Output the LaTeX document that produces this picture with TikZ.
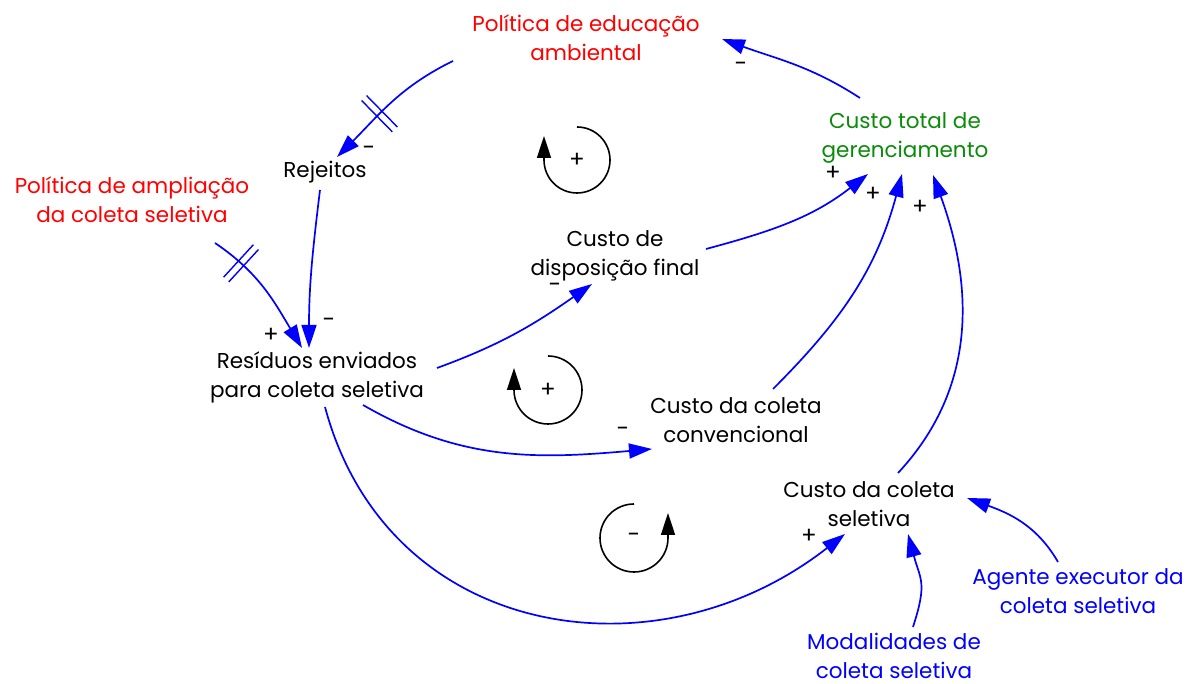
\documentclass[tikz,border=0pt]{standalone}
\usepackage{fontspec}
\setmainfont{Poppins}
\usetikzlibrary{arrows.meta,calc,decorations.markings}
\definecolor{cblue}{RGB}{0,0,255}
\definecolor{cred}{RGB}{255,0,0}
\definecolor{cgreen}{RGB}{10,140,10}
\tikzset{
  var/.style={align=center,inner sep=0pt,font=\fontsize{21.5}{29}\selectfont},
  sgn/.style={inner sep=0pt,font=\fontsize{23}{23}\selectfont},
  link/.style={draw=cblue,line width=1.7pt,-{Triangle[length=23pt,width=15pt]}},
  loopar/.style={draw=black,line width=1.6pt,-{Triangle[length=22pt,width=14pt]}},
  delaymark/.style={postaction={decorate,decoration={markings,
     mark=at position #1 with {\draw[cblue,line width=1.4pt,-] (-3.5,-22)--(-3.5,22) (3.5,-22)--(3.5,22);}}}}
}
\begin{document}
\begin{tikzpicture}[x=1pt,y=1pt]
\useasboundingbox[fill=white] (0,0) rectangle (1195,684);
% variables
\node[var,text=cred] (edu) at (586,646) {Política de educação\\ambiental};
\node[var,text=cgreen] (tot) at (905,546) {Custo total de\\gerenciamento};
\node[var] (rej) at (325,512) {Rejeitos};
\node[var,text=cred] (amp) at (132,484) {Política de ampliação\\da coleta seletiva};
\node[var] (disp) at (615,428) {Custo de\\disposição final};
\node[var] (res) at (317,307) {Resíduos enviados\\para coleta seletiva};
\node[var] (conv) at (736,264) {Custo da coleta\\convencional};
\node[var] (sel) at (869,180) {Custo da coleta\\seletiva};
\node[var,text=cblue] (age) at (1078,93) {Agente executor da\\coleta seletiva};
\node[var,text=cblue] (mod) at (894,28) {Modalidades de\\coleta seletiva};
% connectors
\draw[link] ($(tot)+(-45,40)$) to[out=147,in=-20] ($(edu)+(136,-1)$);
\draw[link,delaymark=0.6] ($(edu)+(-133,-23)$) to[out=206,in=45] ($(rej)+(12,15)$);
\draw[link] ($(rej)+(-5,-18)$) to[out=-97,in=90] ($(res)+(-8,29)$);
\draw[link,delaymark=0.24] ($(amp)+(83,-43)$) to[out=-34,in=121] ($(res)+(-15,29)$);
\draw[link] ($(res)+(120,9)$) to[out=20,in=215] ($(disp)+(-23,-28)$);
\draw[link] ($(disp)+(91,7)$) to[out=15,in=218] ($(tot)+(-37,-36)$);
\draw[link] ($(conv)+(37,31)$) to[out=45,in=-105] ($(tot)+(-3,-36)$);
\draw[link] ($(sel)+(29,31)$) to[out=47,in=-70] ($(tot)+(28,-37)$);
\draw[link] ($(res)+(46,-28)$) to[out=-30,in=185] ($(conv)+(-84,-29)$);
\draw[link] ($(res)+(8,-30)$) to[out=-75,in=218,looseness=1.15] ($(sel)+(-24,-30)$);
\draw[link] ($(mod)+(19,29)$) to[out=72,in=-75,looseness=1.3] ($(sel)+(39,-30)$);
\draw[link] ($(age)+(-20,29)$) to[out=120,in=-20] ($(sel)+(98,6)$);
% signs
\node[sgn] (s1) at (741,617) {-};
\node[sgn] (s2) at (369,533) {-};
\node[sgn] (s3) at (329,361) {-};
\node[sgn] (s4) at (271,349) {+};
\node[sgn] (s5) at (555,396) {-};
\node[sgn] (s6) at (833,511) {+};
\node[sgn] (s7) at (873,490) {+};
\node[sgn] (s8) at (920,477) {+};
\node[sgn] (s9) at (623,252) {-};
\node[sgn] (s10) at (809,148) {+};
% loop markers
\coordinate (l1) at (577,524);
\coordinate (l2) at (548,294);
\coordinate (l3) at (634,146);
\draw[loopar] ($(l1)+(0,33)$) arc[start angle=90,end angle=-180,radius=33] -- ++(0,24);
\node[sgn] (l1s) at (l1) {+};
\draw[loopar] ($(l2)+(0,34)$) arc[start angle=90,end angle=-180,radius=34] -- ++(0,22);
\node[sgn] (l2s) at (l2) {+};
\draw[loopar] ($(l3)+(0,34)$) arc[start angle=90,end angle=360,radius=34] -- ++(0,25);
\node[sgn] (l3s) at (l3) {-};
\end{tikzpicture}
\end{document}
